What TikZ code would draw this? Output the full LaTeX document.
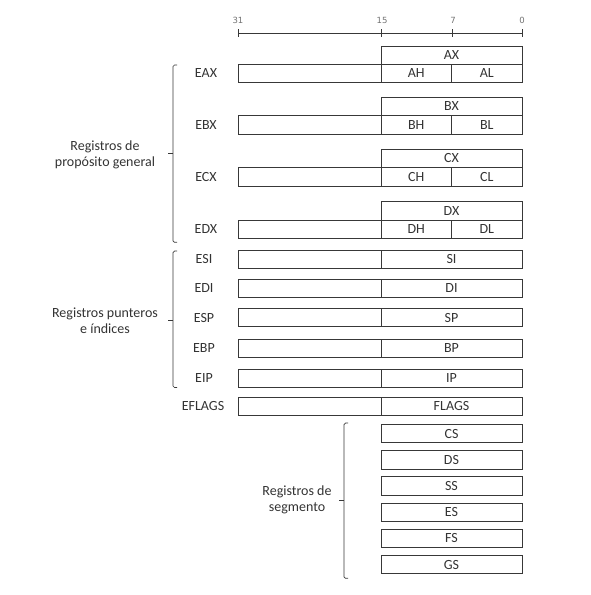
\documentclass[tikz,border=0pt]{standalone}
\usepackage{fontspec}
\setmainfont{Carlito}
\newfontfamily\rulerfont{DejaVu Sans}
\usepackage{tikz}
\usetikzlibrary{positioning}
\definecolor{linegray}{gray}{0.22}
\definecolor{labelgray}{gray}{0.2}
\tikzset{
	reg/.style={
		draw=linegray,
		semithick,
		minimum height=18.4pt,
		inner sep=0pt,
		outer sep=0pt,
		text=labelgray,
		font=\fontsize{14}{16}\selectfont},
	wordbox/.style={reg, minimum width=143pt},
	xbox/.style={reg, minimum width=141pt},
	bytebox/.style={reg, minimum width=70.5pt},
	regname/.style={
		text=labelgray,
		font=\fontsize{14}{16}\selectfont},
	grouplabel/.style={regname, align=center},
	bitlabel/.style={
		text=black!55,
		font=\rulerfont\fontsize{8.5}{10}\selectfont},
	grp/.style={
		draw=linegray,
		line width=0.7pt,
		rounded corners=1.5pt}
}

\begin{document}
\begin{tikzpicture}[x=1pt, y=-1pt]
	\useasboundingbox (0,0) rectangle (590,595);
	% bit ruler
	\coordinate (b31) at (238,33);
	\coordinate (b15) at (381.5,33);
	\coordinate (b7) at (452.5,33);
	\coordinate (b0) at (522,33);
	\draw[linegray, semithick] (b31) -- (b0);
	\draw[linegray, semithick] (b31) +(0,-4) -- +(0,4);
	\draw[linegray, semithick] (b15) +(0,-4) -- +(0,4);
	\draw[linegray, semithick] (b7) +(0,-4) -- +(0,4);
	\draw[linegray, semithick] (b0) +(0,-4) -- +(0,4);
	\node[bitlabel] (n31) at (238,20) {31};
	\node[bitlabel] (n15) at (382,20) {15};
	\node[bitlabel] (n7) at (453,20) {7};
	\node[bitlabel] (n0) at (522,20) {0};
	% general purpose
	\node[wordbox, anchor=north west] (eaxh) at (238,64.3) {};
	\node[bytebox, right=0pt of eaxh] (ah) {AH};
	\node[bytebox, right=0pt of ah] (al) {AL};
	\node[xbox, anchor=south west] (ax) at (eaxh.north east) {AX};
	\node[regname] (eax) at (206,0 |- eaxh) {EAX};
	\node[wordbox, anchor=north west] (ebxh) at (238,115.5) {};
	\node[bytebox, right=0pt of ebxh] (bh) {BH};
	\node[bytebox, right=0pt of bh] (bl) {BL};
	\node[xbox, anchor=south west] (bx) at (ebxh.north east) {BX};
	\node[regname] (ebx) at (206,0 |- ebxh) {EBX};
	\node[wordbox, anchor=north west] (ecxh) at (238,167.7) {};
	\node[bytebox, right=0pt of ecxh] (ch) {CH};
	\node[bytebox, right=0pt of ch] (cl) {CL};
	\node[xbox, anchor=south west] (cx) at (ecxh.north east) {CX};
	\node[regname] (ecx) at (206,0 |- ecxh) {ECX};
	\node[wordbox, anchor=north west] (edxh) at (238,220) {};
	\node[bytebox, right=0pt of edxh] (dh) {DH};
	\node[bytebox, right=0pt of dh] (dl) {DL};
	\node[xbox, anchor=south west] (dx) at (edxh.north east) {DX};
	\node[regname] (edx) at (206,0 |- edxh) {EDX};
	% pointers and indexes
	\node[wordbox, anchor=north west] (esih) at (238,250) {};
	\node[xbox, right=0pt of esih] (si) {SI};
	\node[regname] (esi) at (204,0 |- esih) {ESI};
	\node[wordbox, anchor=north west] (edih) at (238,279.3) {};
	\node[xbox, right=0pt of edih] (di) {DI};
	\node[regname] (edi) at (204,0 |- edih) {EDI};
	\node[wordbox, anchor=north west] (esph) at (238,308.3) {};
	\node[xbox, right=0pt of esph] (sp) {SP};
	\node[regname] (esp) at (204,0 |- esph) {ESP};
	\node[wordbox, anchor=north west] (ebph) at (238,339) {};
	\node[xbox, right=0pt of ebph] (bp) {BP};
	\node[regname] (ebp) at (204,0 |- ebph) {EBP};
	\node[wordbox, anchor=north west] (eiph) at (238,369) {};
	\node[xbox, right=0pt of eiph] (ip) {IP};
	\node[regname] (eip) at (204,0 |- eiph) {EIP};
	\node[wordbox, anchor=north west] (eflagsh) at (238,396.9) {};
	\node[xbox, right=0pt of eflagsh] (flags) {FLAGS};
	\node[regname] (eflags) at (203,0 |- eflagsh) {EFLAGS};
	% segments
	\node[xbox, anchor=north west] (cs) at (381,424.3) {CS};
	\node[xbox, below=7.8pt of cs] (ds) {DS};
	\node[xbox, below=7.8pt of ds] (ss) {SS};
	\node[xbox, below=7.8pt of ss] (es) {ES};
	\node[xbox, below=7.8pt of es] (fs) {FS};
	\node[xbox, below=7.8pt of fs] (gs) {GS};
	% groups
	\coordinate (gtip) at (173,153.5);
	\coordinate (ptip) at (173,320);
	\coordinate (stip) at (344,500.5);
	\draw[grp] (177,65) -| (gtip) |- (177,242.3);
	\draw[grp] (gtip) -- +(-5,0);
	\draw[grp] (177,251) -| (ptip) |- (177,387.5);
	\draw[grp] (ptip) -- +(-5,0);
	\draw[grp] (348,423) -| (stip) |- (348,578.3);
	\draw[grp] (stip) -- +(-5,0);
	\node[grouplabel] (general) at (105,155) {Registros de\\propósito general};
	\node[grouplabel] (pointers) at (105,321) {Registros punteros\\e índices};
	\node[grouplabel] (segment) at (297,499.5) {Registros de\\segmento};
\end{tikzpicture}
\end{document}
